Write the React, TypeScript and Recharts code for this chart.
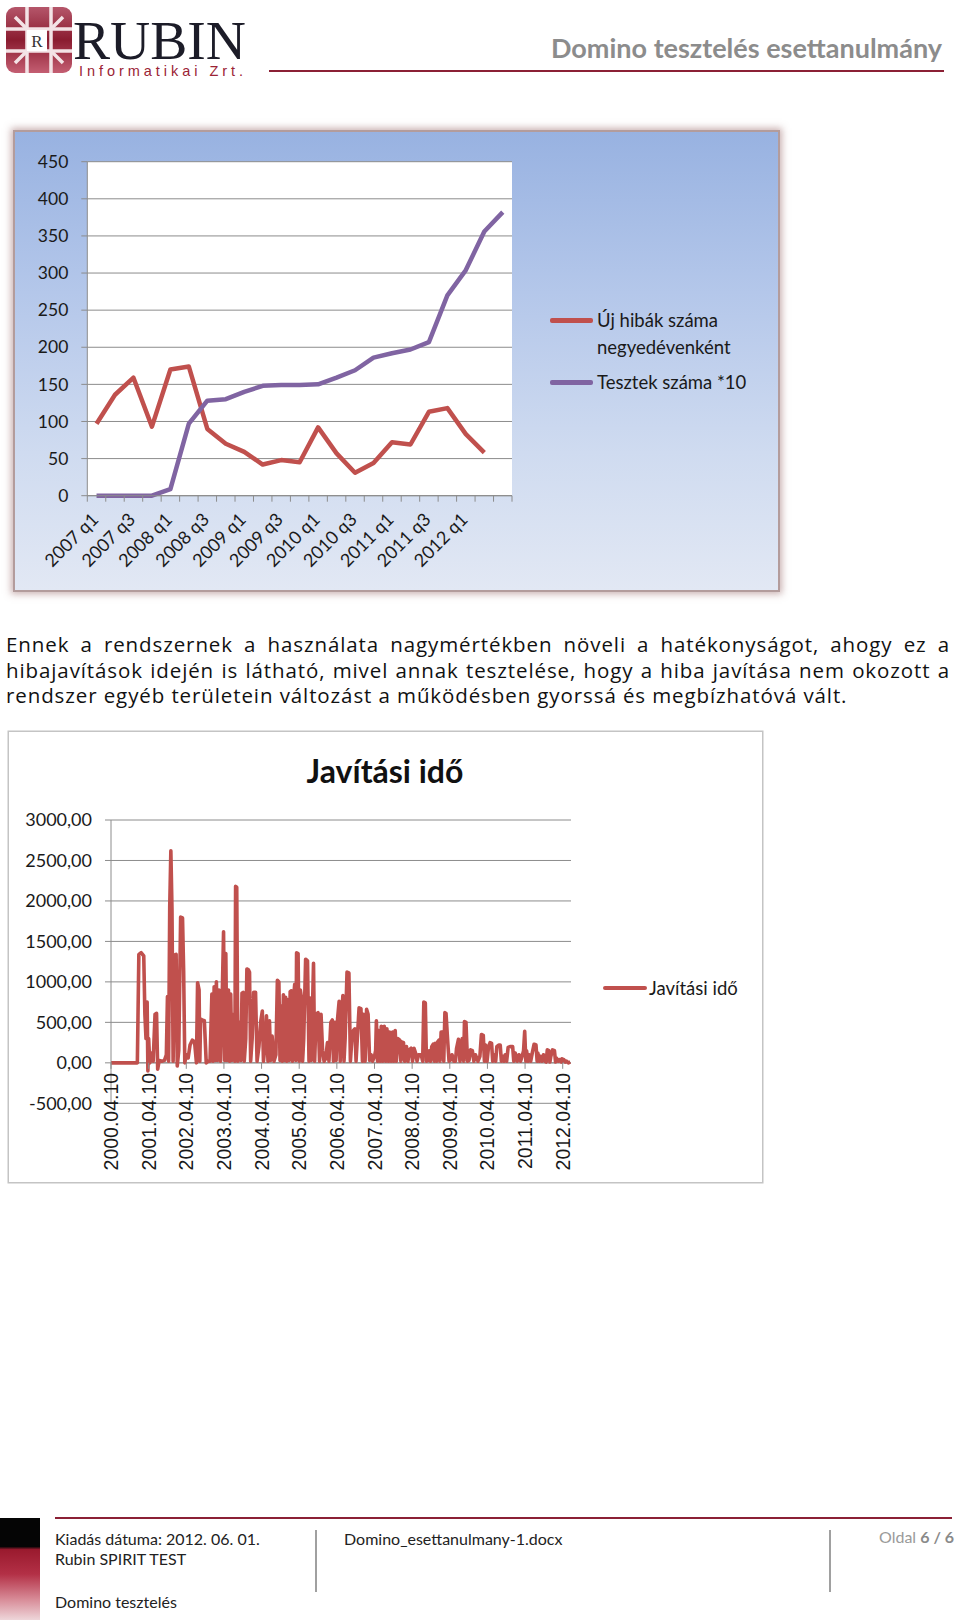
import React from 'react';
import { LineChart, Line, XAxis, YAxis, CartesianGrid, Legend, ReferenceLine } from 'recharts';

const RED = '#c0504d';
const PURPLE = '#8064a2';
const GRID = '#8c8c8c';
const CAL = 'Lato, "Open Sans", sans-serif';
const TEXT = '#1a1a1a';

// --- Chart 1: new bugs per quarter / tests *10 ---
const quarters = [
  '2007 q1', '2007 q2', '2007 q3', '2007 q4', '2008 q1', '2008 q2', '2008 q3', '2008 q4',
  '2009 q1', '2009 q2', '2009 q3', '2009 q4', '2010 q1', '2010 q2', '2010 q3', '2010 q4',
  '2011 q1', '2011 q2', '2011 q3', '2011 q4', '2012 q1', '2012 q2', '2012 q3',
];
const newBugs = [97, 136, 159, 93, 170, 174, 90, 70, 59, 42, 48, 45, 92, 57, 31, 44, 72, 69, 113, 118, 83, 58, null];
const testsTimes10 = [0, 0, 0, 0, 9, 97, 128, 130, 140, 148, 149, 149, 150, 159, 169, 186, 192, 197, 207, 270, 304, 356, 382];
const quarterTicks = [0, 50, 100, 150, 200, 250, 300, 350, 400, 450];
const quarterSeriesOrder = ['bugs', 'tests'];

// --- Chart 2: repair time, [years since 2000.04.10, value] ---
const repairPoints: [number, number][] = [
  [0, 0], [0.70, 0], [0.74, 1340], [0.80, 1360], [0.87, 1320], [0.90, 600], [0.93, 300], [0.96, 750], [0.98, -100], [1.00, 300],
  [1.03, 0], [1.08, 120], [1.12, 20], [1.17, 600], [1.21, 610], [1.24, -80], [1.28, 30], [1.35, 20], [1.42, 30], [1.47, 100],
  [1.50, 820], [1.53, 20], [1.56, 1920], [1.59, 2620], [1.62, 1900], [1.65, 20], [1.69, 1330], [1.73, 1340], [1.76, -40], [1.80, 150],
  [1.85, 1800], [1.90, 1790], [1.93, 1130], [1.96, 0], [2.00, 100], [2.05, 60], [2.10, 220], [2.16, 280], [2.22, 260], [2.27, 0],
  [2.30, 990], [2.34, 900], [2.36, 20], [2.38, 540], [2.42, 530], [2.48, 520], [2.53, 0], [2.58, 20], [2.63, 20], [2.68, 850],
  [2.71, 20], [2.74, 940], [2.77, 30], [2.80, 1000], [2.83, 30], [2.87, 900], [2.91, 20], [2.95, 700], [2.99, 1620], [3.02, 30],
  [3.05, 1350], [3.08, 30], [3.12, 900], [3.15, 20], [3.18, 850], [3.21, 30], [3.25, 600], [3.29, 20], [3.31, 2180], [3.34, 2170],
  [3.37, 20], [3.41, 500], [3.45, 30], [3.48, 860], [3.51, 870], [3.54, 20], [3.58, 300], [3.61, 1160], [3.65, 1150], [3.68, 1120],
  [3.71, 20], [3.75, 300], [3.79, 870], [3.84, 870], [3.88, 20], [3.93, 200], [3.98, 520], [4.02, 640], [4.05, 20], [4.09, 200],
  [4.13, 580], [4.17, 20], [4.21, 520], [4.24, 30], [4.28, 330], [4.33, 20], [4.38, 100], [4.42, 1020], [4.46, 1000], [4.49, 30],
  [4.52, 700], [4.55, 20], [4.58, 840], [4.61, 30], [4.64, 810], [4.67, 20], [4.70, 780], [4.73, 30], [4.76, 880], [4.79, 890],
  [4.82, 20], [4.85, 800], [4.88, 970], [4.91, 30], [4.93, 1360], [4.97, 1350], [5.00, 20], [5.03, 900], [5.06, 800], [5.09, 20],
  [5.12, 300], [5.17, 1280], [5.22, 1260], [5.26, 20], [5.29, 800], [5.32, 30], [5.38, 1230], [5.41, 20], [5.45, 600], [5.50, 620],
  [5.54, 20], [5.58, 600], [5.62, 150], [5.66, 20], [5.70, 50], [5.75, 250], [5.79, 20], [5.84, 500], [5.88, 530], [5.91, 20],
  [5.95, 500], [5.98, 30], [6.02, 550], [6.06, 760], [6.09, 20], [6.12, 550], [6.16, 830], [6.19, 20], [6.22, 300], [6.27, 1120],
  [6.32, 1110], [6.36, 20], [6.40, 300], [6.44, 400], [6.48, 420], [6.51, 20], [6.55, 350], [6.59, 680], [6.64, 670], [6.68, 20],
  [6.71, 600], [6.75, 20], [6.79, 660], [6.83, 600], [6.87, 30], [6.91, 100], [6.95, 20], [7.00, 80], [7.03, 150], [7.05, 520],
  [7.08, 20], [7.11, 400], [7.15, 20], [7.18, 450], [7.22, 20], [7.26, 450], [7.30, 20], [7.33, 420], [7.37, 20], [7.40, 380],
  [7.44, 20], [7.48, 380], [7.51, 20], [7.55, 400], [7.58, 20], [7.62, 300], [7.67, 280], [7.70, 20], [7.72, 260], [7.77, 250],
  [7.80, 20], [7.85, 200], [7.89, 20], [7.92, 160], [7.97, 180], [8.01, 20], [8.05, 180], [8.09, 120], [8.13, 20], [8.17, 100],
  [8.24, 100], [8.28, 20], [8.31, 750], [8.35, 740], [8.38, 20], [8.42, 30], [8.45, 150], [8.49, 20], [8.52, 200], [8.56, 230],
  [8.59, 20], [8.61, 240], [8.65, 20], [8.68, 260], [8.71, 280], [8.74, 20], [8.77, 380], [8.81, 380], [8.84, 20], [8.87, 620],
  [8.90, 610], [8.94, 300], [8.98, 20], [9.03, 40], [9.06, 100], [9.11, 20], [9.15, 20], [9.18, 180], [9.23, 290], [9.27, 20],
  [9.33, 300], [9.37, 20], [9.39, 510], [9.43, 500], [9.47, 20], [9.51, 30], [9.55, 160], [9.60, 150], [9.64, 20], [9.68, 100],
  [9.75, 20], [9.80, 80], [9.84, 350], [9.89, 340], [9.92, 20], [9.95, 220], [9.99, 20], [10.03, 200], [10.07, 250], [10.11, 240],
  [10.14, 20], [10.17, 100], [10.22, 20], [10.25, 200], [10.30, 220], [10.34, 220], [10.37, 20], [10.40, 80], [10.44, 20], [10.47, 100],
  [10.51, 20], [10.55, 190], [10.60, 200], [10.67, 200], [10.70, 20], [10.74, 120], [10.79, 20], [10.84, 100], [10.88, 20], [10.92, 80],
  [10.96, 150], [10.99, 390], [11.02, 20], [11.04, 150], [11.08, 20], [11.11, 100], [11.15, 20], [11.19, 120], [11.24, 230], [11.29, 220],
  [11.32, 20], [11.34, 120], [11.38, 20], [11.41, 80], [11.45, 20], [11.49, 100], [11.53, 20], [11.56, 10], [11.59, 160], [11.63, 150],
  [11.66, 10], [11.68, 70], [11.73, 160], [11.78, 150], [11.81, 10], [11.83, 60], [11.88, 20], [11.91, 40], [11.96, 10], [11.98, 50],
  [12.03, 40], [12.07, 10], [12.10, 20], [12.15, 0], [12.20, 10],
];
const repairYearTicks = [0, 1, 2, 3, 4, 5, 6, 7, 8, 9, 10, 11, 12];
const repairYearLabels = [
  '2000.04.10', '2001.04.10', '2002.04.10', '2003.04.10', '2004.04.10', '2005.04.10', '2006.04.10',
  '2007.04.10', '2008.04.10', '2009.04.10', '2010.04.10', '2011.04.10', '2012.04.10',
];
const repairValueTicks = [-500, 0, 500, 1000, 1500, 2000, 2500, 3000];

const paragraphLines = [
  'Ennek a rendszernek a használata nagymértékben növeli a hatékonyságot, ahogy ez a',
  'hibajavítások idején is látható, mivel annak tesztelése, hogy a hiba javítása nem okozott a',
  'rendszer egyéb területein változást a működésben gyorssá és megbízhatóvá vált.',
];

const quarterData = quarters.map((q, i) => ({ q, bugs: newBugs[i], tests: testsTimes10[i] }));
const repairData = repairPoints.map(([t, v]) => ({ t, v }));

const PLOT1_W = 424.7;
const BAND1 = PLOT1_W / quarters.length;
const PLOT2_H = 283.3;
const ZERO_OFFSET = (PLOT2_H * 500) / 3500;

function QuarterTick(props: any) {
  const { x, y, payload } = props;
  const i = props.index ?? payload.index;
  const ax = x + 3;
  const ay = y + 25;
  const last = quarters.length - 1;
  return (
    <g>
      <line x1={x - BAND1 / 2} x2={x - BAND1 / 2} y1={y} y2={y + 6} stroke={GRID} />
      {i === last && <line x1={x + BAND1 / 2} x2={x + BAND1 / 2} y1={y} y2={y + 6} stroke={GRID} />}
      {i % 2 === 0 && i < last && (
        <text x={ax} y={ay} transform={`rotate(-45 ${ax} ${ay})`} textAnchor="end" fontSize={18} fontFamily={CAL} fill={TEXT}>
          {payload.value}
        </text>
      )}
    </g>
  );
}

function DateTick(props: any) {
  const { x, y, payload } = props;
  const y0 = y - ZERO_OFFSET;
  const ty = y0 + 10;
  const label = repairYearLabels[repairYearTicks.indexOf(payload.value)];
  return (
    <g>
      <line x1={x} x2={x} y1={y0} y2={y0 + 6} stroke={GRID} />
      <text x={x} y={ty} dy="0.36em" transform={`rotate(-90 ${x} ${ty})`} textAnchor="end" fontSize={19.5} fontFamily="'Liberation Sans', Arial, sans-serif" fill={TEXT}>
        {label}
      </text>
    </g>
  );
}

function QuarterLegend({ payload }: any) {
  const items = [...(payload || [])].sort(
    (a: any, b: any) => quarterSeriesOrder.indexOf(a.dataKey) - quarterSeriesOrder.indexOf(b.dataKey),
  );
  return (
    <div style={{ fontFamily: CAL, fontSize: 18.5, color: TEXT, lineHeight: '27px' }}>
      {items.map((e: any) => (
        <div key={e.dataKey} style={{ display: 'flex', alignItems: 'flex-start', marginBottom: 8 }}>
          <span style={{ display: 'inline-block', width: 43, height: 4.5, borderRadius: 2, background: e.color, marginTop: 11.5, marginRight: 4 }} />
          <span style={{ whiteSpace: 'pre-line' }}>{e.value}</span>
        </div>
      ))}
    </div>
  );
}

function RepairLegend({ payload }: any) {
  return (
    <div style={{ fontFamily: CAL, fontSize: 18.5, color: TEXT, lineHeight: '26px' }}>
      {(payload || []).map((e: any) => (
        <div key={e.value} style={{ display: 'flex', alignItems: 'center' }}>
          <span style={{ display: 'inline-block', width: 44, height: 4, borderRadius: 2, background: e.color, marginRight: 2 }} />
          <span>{e.value}</span>
        </div>
      ))}
    </div>
  );
}

function Header() {
  return (
    <svg width={960} height={80} style={{ position: 'absolute', left: 0, top: 0 }}>
      <defs>
        <linearGradient id="emb" x1="0" y1="0" x2="0" y2="1">
          <stop offset="0" stopColor="#b5566a" />
          <stop offset="0.5" stopColor="#8a1c30" />
          <stop offset="1" stopColor="#c45e72" />
        </linearGradient>
      </defs>
      <rect x={6} y={7} width={66} height={66} rx={9} fill="url(#emb)" />
      <path d="M27 7 V73 M51 7 V73 M6 29 H72 M6 51 H72" stroke="#f3e3e6" strokeWidth={3.5} />
      <path d="M27 29 L15 17 M51 29 L63 17 M27 51 L15 63 M51 51 L63 63" stroke="#f3e3e6" strokeWidth={3.5} />
      <rect x={27} y={30} width={20} height={21} fill="#fff" />
      <text x={37} y={47} textAnchor="middle" fontFamily="'Liberation Serif', serif" fontSize={17} fill="#333">R</text>
      <text x={73} y={59} fontFamily="'Liberation Serif', serif" fontSize={55} fill="#1c1c28" textLength={173} lengthAdjust="spacingAndGlyphs">
        RUBIN
      </text>
      <text x={79} y={76} fontFamily="'Liberation Sans', sans-serif" fontSize={14.5} fill="#9b2335" textLength={164} lengthAdjust="spacing">
        Informatikai Zrt.
      </text>
      <text x={942} y={58} textAnchor="end" fontFamily={CAL} fontWeight={700} fontSize={27} fill="#8c8c8c">
        Domino tesztelés esettanulmány
      </text>
      <line x1={269} x2={944} y1={71} y2={71} stroke="#8b2035" strokeWidth={2} />
    </svg>
  );
}

function Footer() {
  const t: React.CSSProperties = { position: 'absolute', fontFamily: CAL, fontSize: 16, color: '#222', whiteSpace: 'nowrap', lineHeight: '20px' };
  return (
    <>
      <div style={{ position: 'absolute', left: 0, top: 1518, width: 40, height: 102, background: 'linear-gradient(to bottom, #050505 0%, #050505 28%, #9a1a2e 31%, #b33046 55%, #d88c98 80%, #eed6da 100%)' }} />
      <div style={{ position: 'absolute', left: 55, top: 1517, width: 897, height: 2, background: '#8b2035' }} />
      <div style={{ ...t, left: 55, top: 1529 }}>Kiadás dátuma: 2012. 06. 01.</div>
      <div style={{ ...t, left: 55, top: 1549 }}>Rubin SPIRIT TEST</div>
      <div style={{ ...t, left: 55, top: 1592 }}>Domino tesztelés</div>
      <div style={{ position: 'absolute', left: 315, top: 1530, width: 2, height: 62, background: '#a0a0a0' }} />
      <div style={{ ...t, left: 344, top: 1529 }}>Domino_esettanulmany-1.docx</div>
      <div style={{ position: 'absolute', left: 829, top: 1530, width: 2, height: 62, background: '#a0a0a0' }} />
      <div style={{ ...t, left: 879, top: 1527, color: '#9a9a9a' }}>
        Oldal <b style={{ color: '#8a8a8a' }}>6 / 6</b>
      </div>
    </>
  );
}

export default function App() {
  return (
    <div style={{ position: 'absolute', left: 0, top: 0, width: 960, height: 1623, background: '#fff', overflow: 'hidden' }}>
      <Header />

      {/* Chart 1 */}
      <div
        style={{
          position: 'absolute', left: 15, top: 132, width: 763, height: 458,
          background: 'linear-gradient(to bottom, #98b2e1 0%, #b4c7ea 35%, #cfdbf0 70%, #e2e8f4 100%)',
          boxShadow: '0 0 0 2px #b39c9c, 0 0 7px 4px rgba(150,100,100,0.5)',
        }}
      >
        <LineChart width={763} height={458} data={quarterData} margin={{ top: 29.7, right: 266, bottom: 0.3, left: 0 }}>
          <CartesianGrid vertical={false} stroke={GRID} fill="#fff" />
          <XAxis
            dataKey="q" interval={0} tickLine={false} tickSize={0} tickMargin={0} stroke={GRID} tick={<QuarterTick />} height={94}
            padding={{ left: BAND1 / 2, right: BAND1 / 2 }}
          />
          <YAxis
            domain={[0, 450]} ticks={quarterTicks} interval={0} width={72.3} tickSize={6} tickMargin={13} stroke={GRID}
            tick={{ fill: TEXT, fontSize: 17.5, fontFamily: CAL }}
          />
          <Legend verticalAlign="middle" content={<QuarterLegend />} wrapperStyle={{ position: 'absolute', left: 535, top: 174.5, width: 220 }} />
          <Line name={'Új hibák száma\nnegyedévenként'} dataKey="bugs" stroke={RED} strokeWidth={4.5} dot={false} strokeLinejoin="round" isAnimationActive={false} />
          <Line name="Tesztek száma *10" dataKey="tests" stroke={PURPLE} strokeWidth={4.5} dot={false} strokeLinejoin="round" isAnimationActive={false} />
        </LineChart>
      </div>

      {/* Paragraph */}
      <div style={{ position: 'absolute', left: 6, top: 632, width: 944, fontFamily: '"Open Sans", sans-serif', fontSize: 20.5, letterSpacing: 0.9, lineHeight: '25.5px', color: '#111' }}>
        {paragraphLines.map((l, i) => (
          <div key={i} style={{ textAlign: 'justify', textAlignLast: i < paragraphLines.length - 1 ? 'justify' : 'left', whiteSpace: 'nowrap' }}>
            {l}
          </div>
        ))}
      </div>

      {/* Chart 2 */}
      <div style={{ position: 'absolute', left: 9, top: 732, width: 753, height: 450, background: '#fff', boxShadow: '0 0 0 1.5px #c4c4c4' }}>
        <div style={{ position: 'absolute', left: 0, top: 20, width: 752, textAlign: 'center', fontFamily: CAL, fontWeight: 700, fontSize: 32, lineHeight: '38px', color: '#111' }}>
          Javítási idő
        </div>
        <LineChart width={753} height={450} data={repairData} margin={{ top: 88, right: 191, bottom: 0.7, left: 0 }}>
          <CartesianGrid vertical={false} stroke={GRID} />
          <XAxis
            type="number" dataKey="t" domain={[0, 12.22]} ticks={repairYearTicks} allowDataOverflow
            axisLine={false} tickLine={false} tickSize={0} tickMargin={0} tick={<DateTick />} height={78}
          />
          <YAxis
            domain={[-500, 3000]} ticks={repairValueTicks} interval={0} width={102} tickSize={6} tickMargin={13} stroke={GRID}
            tick={{ fill: TEXT, fontSize: 18, fontFamily: CAL }}
            tickFormatter={(v: number) => v.toFixed(2).replace('.', ',')}
          />
          <ReferenceLine y={0} stroke={GRID} />
          <Legend verticalAlign="middle" content={<RepairLegend />} wrapperStyle={{ position: 'absolute', left: 594, top: 243, width: 160 }} />
          <Line name="Javítási idő" dataKey="v" stroke={RED} strokeWidth={3.6} dot={false} strokeLinejoin="round" isAnimationActive={false} />
        </LineChart>
      </div>

      <Footer />
    </div>
  );
}
